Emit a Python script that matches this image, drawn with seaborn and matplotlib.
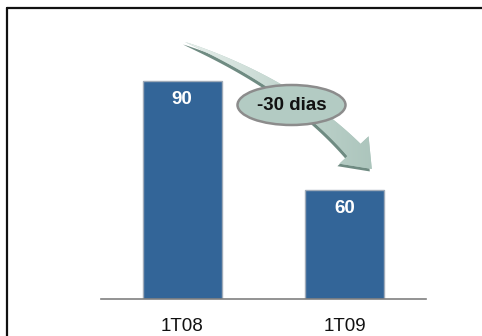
import numpy as np
import pandas as pd
import matplotlib
matplotlib.use("Agg")
import matplotlib.pyplot as plt
import seaborn as sns
from matplotlib.patches import Polygon, Ellipse
from matplotlib.lines import Line2D

# Average days per quarter
periods = ["1T08", "1T09"]
days = [90, 60]
change_label = "-30 dias"

BAR_COLOR = "#336598"
ARROW_COLOR = "#b3cbc3"

sns.set_theme(style="white")
plt.rcParams["font.family"] = ["Liberation Sans", "DejaVu Sans"]

df = pd.DataFrame({"period": periods, "days": days})

fig = plt.figure(figsize=(4.82, 3.36), dpi=100)
ax = fig.add_axes([101 / 482, 37 / 336, 325 / 482, 279 / 336])

sns.barplot(data=df, x="period", y="days", color=BAR_COLOR, saturation=1,
            width=0.486, edgecolor="#9fabb9", linewidth=1.0, ax=ax)

ax.set_xlim(-0.5, 1.5)
ax.set_ylim(30, 30 + 279 / 3.633)
ax.set_xlabel("")
ax.set_ylabel("")
ax.set_yticks([])
ax.tick_params(axis="x", length=0, pad=14, labelsize=13.5, colors="#111111")
for side in ("top", "left", "right"):
    ax.spines[side].set_visible(False)
ax.spines["bottom"].set_color("#808080")
ax.spines["bottom"].set_linewidth(1.2)

# value labels inside the bar tops
for i, v in enumerate(days):
    ax.annotate(f"{v}", xy=(i, v), xytext=(0, -13), textcoords="offset points",
                ha="center", va="center", color="white",
                fontsize=13.5, fontweight="bold")

# overlay in pixel coordinates for the frame and the change arrow
ov = fig.add_axes([0, 0, 1, 1], zorder=5)
ov.set_xlim(0, 482)
ov.set_ylim(336, 0)
ov.axis("off")
ov.patch.set_alpha(0)

ov.add_line(Line2D([7, 482], [8, 8], color="#111111", lw=1.6))
ov.add_line(Line2D([7, 7], [8, 336], color="#111111", lw=1.6))

# curved tapering arrow
p0 = np.array([185.0, 42.0])
p1 = np.array([292.0, 84.0])
p2 = np.array([354.0, 150.0])
t = np.linspace(0, 1, 60)[:, None]
center = (1 - t) ** 2 * p0 + 2 * (1 - t) * t * p1 + t ** 2 * p2
deriv = 2 * (1 - t) * (p1 - p0) + 2 * t * (p2 - p1)
tang = deriv / np.linalg.norm(deriv, axis=1, keepdims=True)
perp = np.column_stack([-tang[:, 1], tang[:, 0]])
half = 9.0 * t[:, 0] ** 0.8
upper = center + perp * half[:, None]
lower = center - perp * half[:, None]
d = tang[-1]
n = perp[-1]
tip = p2 + 26 * d
barb_a = p2 + 20 * n
barb_b = p2 - 20 * n
pts = np.vstack([upper, barb_a[None], tip[None], barb_b[None], lower[::-1]])

shadow = Polygon(pts + np.array([-2.0, 2.5]), closed=True, facecolor="#6f8b82",
                 edgecolor="none")
ov.add_patch(shadow)
arrow = Polygon(pts, closed=True, facecolor=ARROW_COLOR, edgecolor="none")
ov.add_patch(arrow)
grad = np.linspace(0, 1, 256)[None, :]
cmap = matplotlib.colors.LinearSegmentedColormap.from_list(
    "arrowfill", ["#eaf1ee", "#c3d6cf", "#a9c3ba"])
im = ov.imshow(grad, extent=(180, 385, 185, 35), cmap=cmap, aspect="auto",
               zorder=arrow.get_zorder() + 0.1)
im.set_clip_path(arrow)
ov.set_xlim(0, 482)
ov.set_ylim(336, 0)

ell = Ellipse((291.5, 105), 108, 40, facecolor=ARROW_COLOR, edgecolor="#8c8c8c",
              lw=1.8, zorder=6)
ov.add_patch(ell)
ov.text(291.5, 105, change_label, ha="center", va="center", fontsize=13.5,
        fontweight="bold", color="#111111", zorder=7)

fig.savefig("out.png", dpi=100)
